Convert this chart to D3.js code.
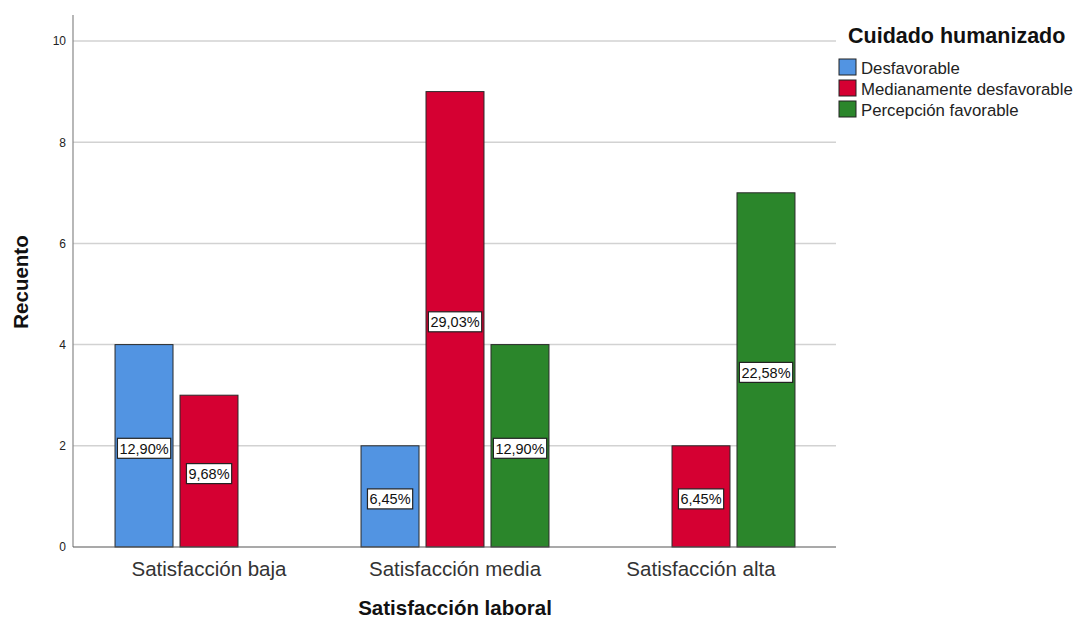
<!DOCTYPE html>
<html>
<head>
<meta charset="utf-8">
<script src="https://cdn.jsdelivr.net/npm/d3@7"></script>
<style>
  html, body { margin: 0; padding: 0; background: #fff; }
  svg { display: block; font-family: Arial, "Liberation Sans", sans-serif; }
</style>
</head>
<body>
<svg id="chart" width="1079" height="619"></svg>
<script>
// Counts of "Cuidado humanizado" per level of "Satisfacción laboral"
const categories = ["Satisfacción baja", "Satisfacción media", "Satisfacción alta"];
const seriesNames = ["Desfavorable", "Medianamente desfavorable", "Percepción favorable"];
const desfavorable = [4, 2, 0];
const medianamente = [3, 9, 2];
const favorable = [0, 4, 7];
const yTicks = [0, 2, 4, 6, 8, 10];
const totalN = 31;
const colors = ["#5294e2", "#d50032", "#2b862b"];

const seriesValues = [desfavorable, medianamente, favorable];

const svg = d3.select("#chart");
const plot = { left: 73, right: 836, top: 15, bottom: 547 };

const x0 = d3.scaleBand().domain(categories).range([86, 824])
  .paddingInner(0.236).paddingOuter(0.118);
const x1 = d3.scaleBand().domain(seriesNames).range([0, x0.bandwidth()])
  .paddingInner(0.1077).paddingOuter(0);
const y = d3.scaleLinear().domain([0, 10]).range([plot.bottom, 41]);

// Horizontal grid lines
svg.append("g")
  .selectAll("line")
  .data(yTicks.filter(d => d > 0))
  .join("line")
  .attr("x1", plot.left).attr("x2", plot.right)
  .attr("y1", d => y(d)).attr("y2", d => y(d))
  .attr("stroke", "#d2d2d2").attr("stroke-width", 1.5);

// Y axis
const yAxis = svg.append("g")
  .attr("transform", `translate(${plot.left},0)`)
  .call(d3.axisLeft(y).tickValues(yTicks).tickSize(0).tickPadding(7));
yAxis.select(".domain").remove();
yAxis.selectAll("text").attr("font-size", 12).attr("fill", "#222")
  .attr("font-family", "Arial, 'Liberation Sans', sans-serif");
svg.append("line")
  .attr("x1", plot.left).attr("x2", plot.left).attr("y1", plot.top).attr("y2", plot.bottom)
  .attr("stroke", "#888").attr("stroke-width", 1.2);

// Bars
const rows = [];
categories.forEach((c, i) => {
  seriesNames.forEach((s, j) => {
    const v = seriesValues[j][i];
    if (v > 0) rows.push({ cat: c, series: s, value: v, color: colors[j] });
  });
});

svg.append("g")
  .selectAll("rect")
  .data(rows)
  .join("rect")
  .attr("x", d => x0(d.cat) + x1(d.series))
  .attr("y", d => y(d.value))
  .attr("width", x1.bandwidth())
  .attr("height", d => y(0) - y(d.value))
  .attr("fill", d => d.color)
  .attr("stroke", "#2a2a2a").attr("stroke-width", 1);

// X baseline
svg.append("line")
  .attr("x1", plot.left).attr("x2", plot.right).attr("y1", plot.bottom).attr("y2", plot.bottom)
  .attr("stroke", "#555").attr("stroke-width", 1.2);

// Percentage labels in the middle of each bar
const pct = d => (d.value / totalN * 100).toFixed(2).replace(".", ",") + "%";
const labels = svg.append("g").selectAll("g")
  .data(rows)
  .join("g")
  .attr("transform", d => `translate(${x0(d.cat) + x1(d.series) + x1.bandwidth() / 2},${y(d.value / 2) + 2.5})`);
labels.append("text")
  .attr("text-anchor", "middle").attr("dy", "0.36em")
  .attr("font-size", 14.5).attr("fill", "#111")
  .text(pct);
labels.each(function () {
  const g = d3.select(this);
  const bb = g.select("text").node().getBBox();
  g.insert("rect", "text")
    .attr("x", bb.x - 2).attr("y", -10)
    .attr("width", bb.width + 4).attr("height", 20)
    .attr("fill", "#fff").attr("stroke", "#222").attr("stroke-width", 1.2);
});

// Category labels
svg.append("g")
  .selectAll("text")
  .data(categories)
  .join("text")
  .attr("x", d => x0(d) + x0.bandwidth() / 2)
  .attr("y", 576)
  .attr("text-anchor", "middle")
  .attr("font-size", 20.5).attr("fill", "#333")
  .text(d => d);

// Axis titles
svg.append("text")
  .attr("x", 455).attr("y", 615)
  .attr("text-anchor", "middle")
  .attr("font-size", 20.5).attr("font-weight", "bold").attr("fill", "#111")
  .text("Satisfacción laboral");
svg.append("text")
  .attr("transform", `translate(28,${282}) rotate(-90)`)
  .attr("text-anchor", "middle")
  .attr("font-size", 20.5).attr("font-weight", "bold").attr("fill", "#111")
  .text("Recuento");

// Legend
const legend = svg.append("g");
legend.append("text")
  .attr("x", 848).attr("y", 43)
  .attr("font-size", 21.5).attr("font-weight", "bold").attr("fill", "#111")
  .text("Cuidado humanizado");
const items = legend.selectAll("g.item")
  .data(seriesNames)
  .join("g").attr("class", "item")
  .attr("transform", (d, i) => `translate(839,${59 + i * 21})`);
items.append("rect")
  .attr("width", 17).attr("height", 16)
  .attr("fill", (d, i) => colors[i])
  .attr("stroke", "#222").attr("stroke-width", 1);
items.append("text")
  .attr("x", 22).attr("y", 15)
  .attr("font-size", 16.8).attr("fill", "#222")
  .text(d => d);
</script>
</body>
</html>
